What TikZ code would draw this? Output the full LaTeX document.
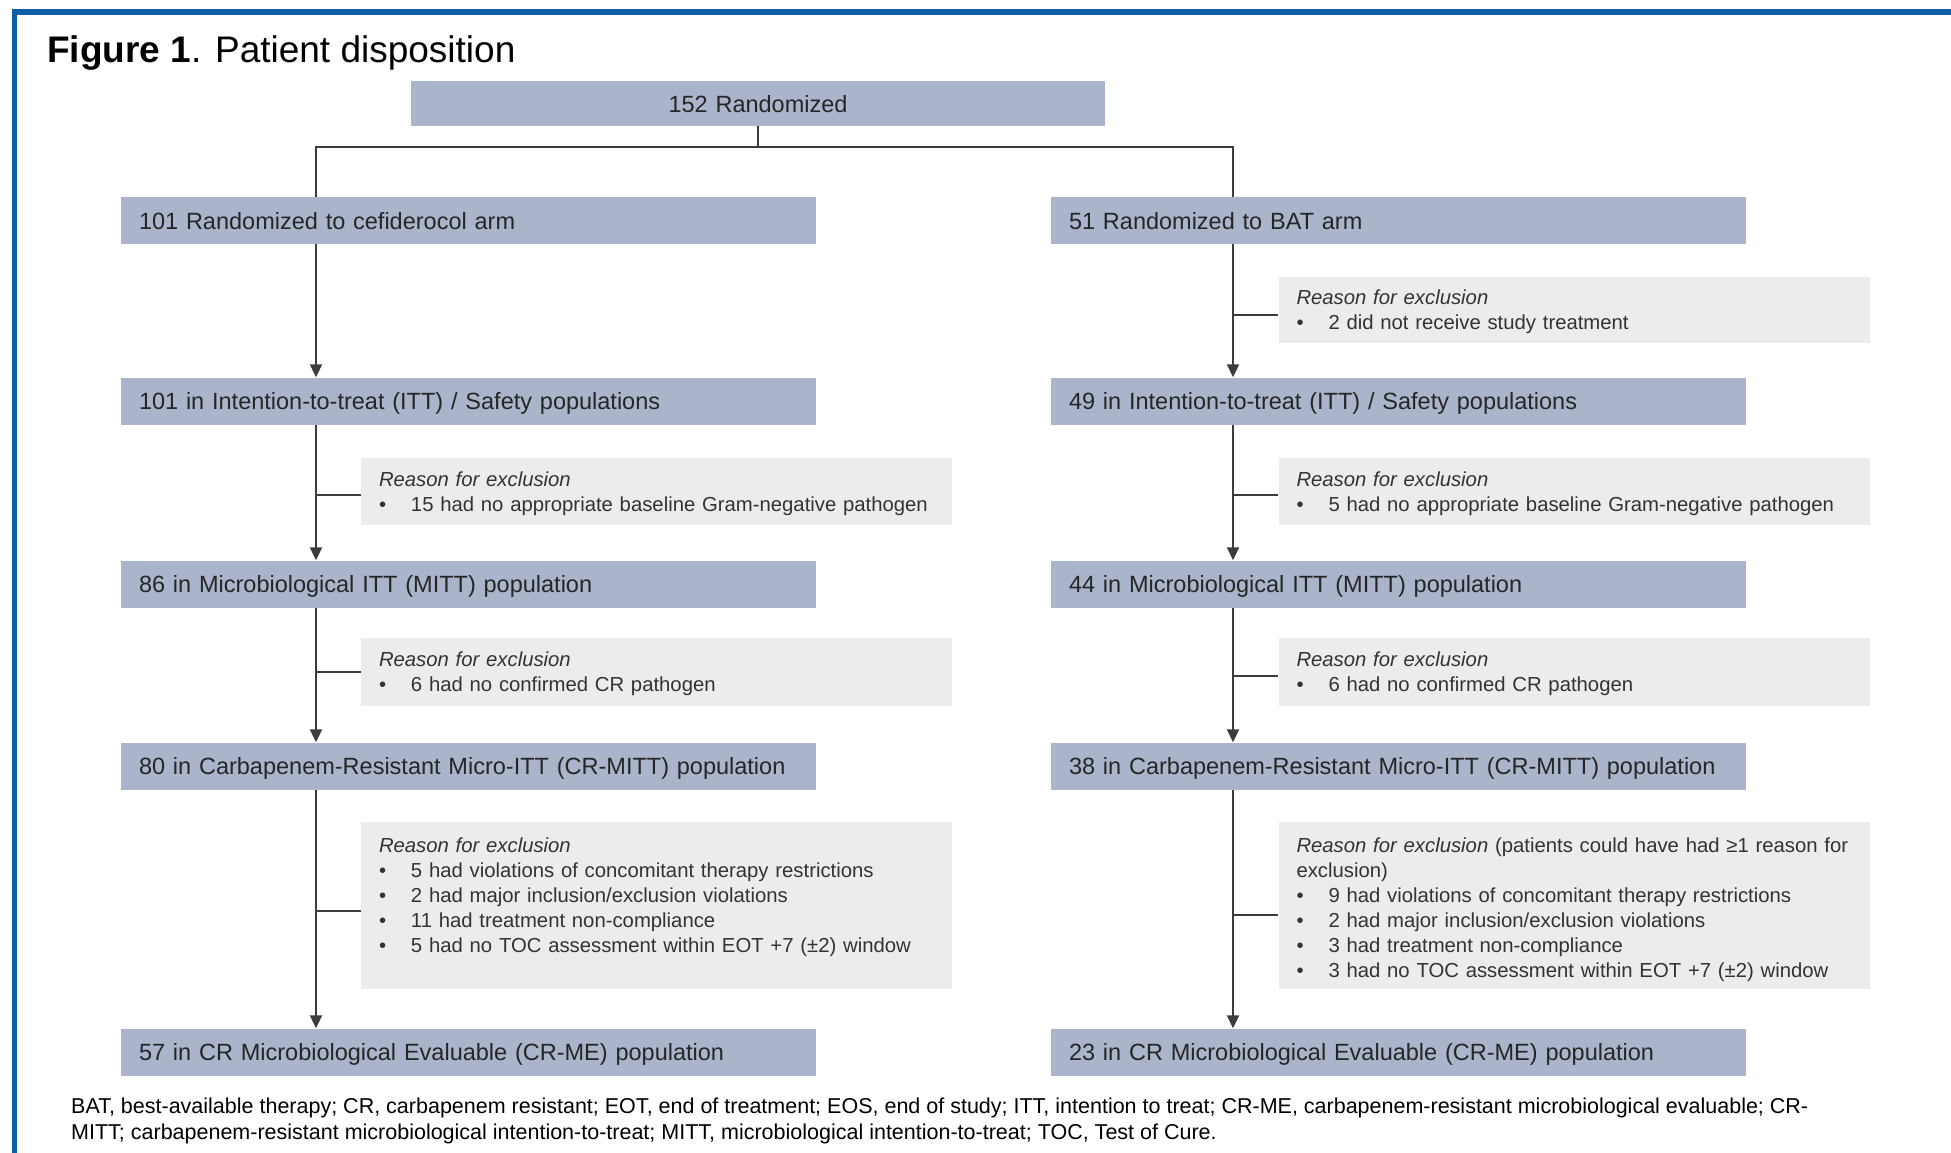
\documentclass[tikz,border=0pt]{standalone}
\usepackage{fontspec}
\setmainfont{Liberation Sans}
\usetikzlibrary{arrows.meta}
\definecolor{popblue}{RGB}{170,180,202}
\definecolor{reasongray}{RGB}{236,236,236}
\definecolor{frameblue}{RGB}{11,94,168}
\definecolor{linegray}{RGB}{60,60,60}
\newcommand{\bul}{\makebox[32pt][l]{\textbullet}}
\begin{document}
\begin{tikzpicture}[x=1pt,y=-1pt,
  pop/.style={fill=popblue,text=black!85,inner xsep=18pt,inner ysep=0pt,
    text width=659pt,minimum height=47pt,align=left,text height=20pt,text depth=2.8pt,
    font=\fontsize{23.5pt}{28pt}\selectfont},
  reason/.style={fill=reasongray,text=black!80,inner xsep=18pt,inner ysep=0pt,
    text width=555pt,align=left,text height=16pt,text depth=26.6pt,
    font=\fontsize{20.3pt}{25pt}\selectfont},
  flow/.style={draw=linegray,line width=2pt},
  arr/.style={flow,-{Triangle[length=13pt,width=12pt]}}]
\useasboundingbox (0,0) rectangle (1951,1153);
% frame and title
\draw[frameblue,line width=5.5pt] (14.5,1153) -- (14.5,12) -- (1951,12);
\node[anchor=base west,inner sep=0pt,font=\fontsize{37pt}{44pt}\selectfont] (title) at (47,63)
  {\textbf{Figure 1}. Patient disposition};
%
\node[pop,text width=658pt,minimum height=45pt,align=center] (top) at (758,103.5) {152 Randomized};
\coordinate (split) at (758,147);
\coordinate (lcol) at (316,0);
\coordinate (rcol) at (1233,0);
%
% cefiderocol arm
\node[pop] (l1) at (468.5,220.5) {101 Randomized to cefiderocol arm};
\node[pop] (l2) at (468.5,401) {101 in Intention-to-treat (ITT) / Safety populations};
\node[pop] (l3) at (468.5,584) {86 in Microbiological ITT (MITT) population};
\node[pop] (l4) at (468.5,766) {80 in Carbapenem-Resistant Micro-ITT (CR-MITT) population};
\node[pop] (l5) at (468.5,1052) {57 in CR Microbiological Evaluable (CR-ME) population};
%
\node[reason,minimum height=67pt] (le2) at (656.5,491.5) {\textit{Reason for exclusion}\\
  \bul 15 had no appropriate baseline Gram-negative pathogen};
\node[reason,minimum height=68pt] (le3) at (656.5,672) {\textit{Reason for exclusion}\\
  \bul 6 had no confirmed CR pathogen};
\node[reason,minimum height=167pt,text depth=123pt] (le4) at (656.5,905.5) {\textit{Reason for exclusion}\\
  \bul 5 had violations of concomitant therapy restrictions\\
  \bul 2 had major inclusion/exclusion violations\\
  \bul 11 had treatment non-compliance\\
  \bul 5 had no TOC assessment within EOT +7 (±2) window};
%
% BAT arm
\node[pop] (r1) at (1398.5,220.5) {51 Randomized to BAT arm};
\node[pop] (r2) at (1398.5,401) {49 in Intention-to-treat (ITT) / Safety populations};
\node[pop] (r3) at (1398.5,584) {44 in Microbiological ITT (MITT) population};
\node[pop] (r4) at (1398.5,766) {38 in Carbapenem-Resistant Micro-ITT (CR-MITT) population};
\node[pop] (r5) at (1398.5,1052) {23 in CR Microbiological Evaluable (CR-ME) population};
%
\node[reason,minimum height=66pt] (re1) at (1574,310) {\textit{Reason for exclusion}\\
  \bul 2 did not receive study treatment};
\node[reason,minimum height=67pt] (re2) at (1574,491.5) {\textit{Reason for exclusion}\\
  \bul 5 had no appropriate baseline Gram-negative pathogen};
\node[reason,minimum height=68pt] (re3) at (1574,672) {\textit{Reason for exclusion}\\
  \bul 6 had no confirmed CR pathogen};
\node[reason,minimum height=167pt,text depth=123pt] (re4) at (1574,905.5)
  {\mbox{\textit{Reason for exclusion} (patients could have had ≥1 reason for}\\
  exclusion)\\
  \bul 9 had violations of concomitant therapy restrictions\\
  \bul 2 had major inclusion/exclusion violations\\
  \bul 3 had treatment non-compliance\\
  \bul 3 had no TOC assessment within EOT +7 (±2) window};
%
% connectors
\draw[flow] (top.south) -- (split);
\draw[flow] (l1.north -| lcol) |- (split) -| (r1.north -| rcol);
\foreach \a/\b in {l1/l2,l2/l3,l3/l4,l4/l5}
  \draw[arr] (\a.south -| lcol) -- (\b.north -| lcol);
\foreach \a/\b in {r1/r2,r2/r3,r3/r4,r4/r5}
  \draw[arr] (\a.south -| rcol) -- (\b.north -| rcol);
\foreach \r/\dy in {le2/3,le3/0,le4/5}
  \draw[flow] ([yshift=-\dy pt]\r.west -| lcol) -- ([yshift=-\dy pt]\r.west);
\foreach \r/\dy in {re1/5,re2/3,re3/4,re4/9}
  \draw[flow] ([yshift=-\dy pt]\r.west -| rcol) -- ([yshift=-\dy pt]\r.west);
%
\node[anchor=north west,inner sep=0pt,align=left,font=\fontsize{21.5pt}{26pt}\selectfont] (notes) at (71,1098)
  {BAT, best-available therapy; CR, carbapenem resistant; EOT, end of treatment; EOS, end of study; ITT, intention to treat; CR-ME, carbapenem-resistant microbiological evaluable; CR-\\
  MITT; carbapenem-resistant microbiological intention-to-treat; MITT, microbiological intention-to-treat; TOC, Test of Cure.};
\end{tikzpicture}
\end{document}
